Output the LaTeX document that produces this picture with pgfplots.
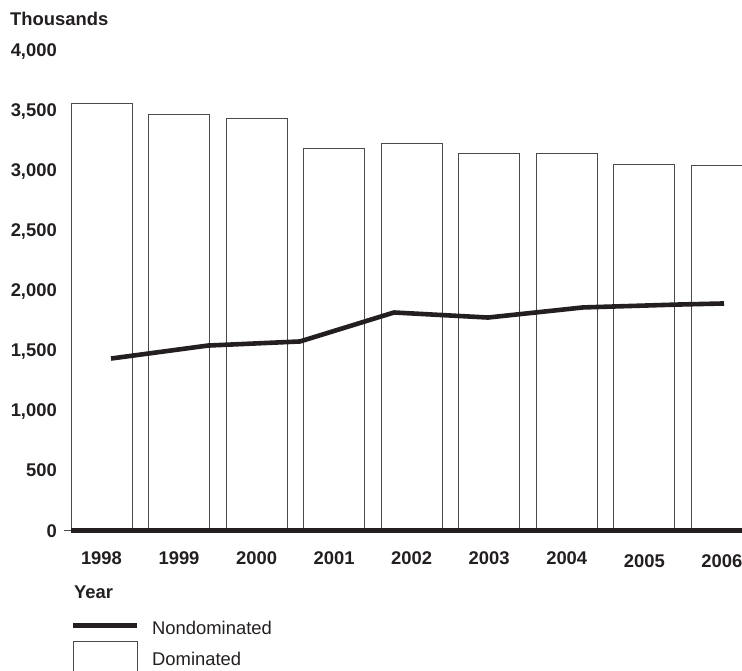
\documentclass[border=0pt]{standalone}
\usepackage{fontspec}
\setmainfont{Liberation Sans}
\usepackage{pgfplots}
\pgfplotsset{compat=1.18}
\definecolor{ink}{HTML}{231F20}
\definecolor{barline}{HTML}{4A4A4A}
\begin{document}
\fontsize{18.4}{22}\selectfont
\begin{tikzpicture}[x=1pt,y=1pt]
\path[use as bounding box] (0,0) rectangle (742,670);
\begin{axis}[
  at={(71pt,139.5pt)}, anchor=south west,
  scale only axis, width=671pt, height=481pt,
  xmin=-0.393, xmax=8.26, ymin=0, ymax=4000,
  axis on top,
  axis lines*=left,
  x axis line style={line width=5pt, color=ink, -},
  y axis line style={draw=none},
  major tick length=0pt,
  xtick={0,1,2,3,4,5,6,7,8},
  xticklabels={1998,1999,2000,2001,2002,2003,2004,\raisebox{-2.5pt}[\height]{2005},\raisebox{-2.5pt}[\height]{2006}},
  ytick={0,500,1000,1500,2000,2500,3000,3500,4000},
  /pgf/number format/assume math mode=true,
  /pgf/number format/1000 sep={,},
  xticklabel style={font=\fontsize{18.4}{22}\selectfont\bfseries, inner sep=0pt, anchor=north, yshift=-21pt, text=ink},
  yticklabel style={font=\fontsize{18.4}{22}\selectfont\bfseries, inner sep=0pt, anchor=base east, xshift=-14pt, yshift=-6.6pt, text=ink},
  extra y ticks={0},
  extra y tick labels={},
  extra y tick style={tick align=outside, major tick length=7pt, tick style={barline, line width=0.9pt}},
  clip=true,
]
\addplot[ybar, bar width=61pt, draw=barline, fill=white, line width=0.9pt]
  coordinates {(0,3554) (1,3459) (2,3426) (3,3175) (4,3217) (5,3134) (6,3132) (7,3043) (8,3035)};
\addplot[ink, line width=4.6pt, line join=round]
  coordinates {(0.123,1430) (1.373,1538) (2.560,1572) (3.772,1813) (4.985,1771) (6.210,1855) (7.435,1879) (8.028,1888)};
\end{axis}
% titles and legend
\node[anchor=base west, inner sep=0pt, font=\bfseries, text=ink] at (10,644.3) {Thousands};
\node[anchor=base west, inner sep=0pt, font=\bfseries, text=ink] at (74,71.7) {Year};
\draw[ink, line width=4.7pt] (73,44.3) -- (137,44.3);
\node[anchor=base west, inner sep=0pt, text=ink] at (152,36) {Nondominated};
\draw[barline, line width=0.9pt] (73,-10) -- (73,28.7) -- (137,28.7) -- (137,-10);
\node[anchor=base west, inner sep=0pt, text=ink] at (152,5) {Dominated};
\end{tikzpicture}
\end{document}
